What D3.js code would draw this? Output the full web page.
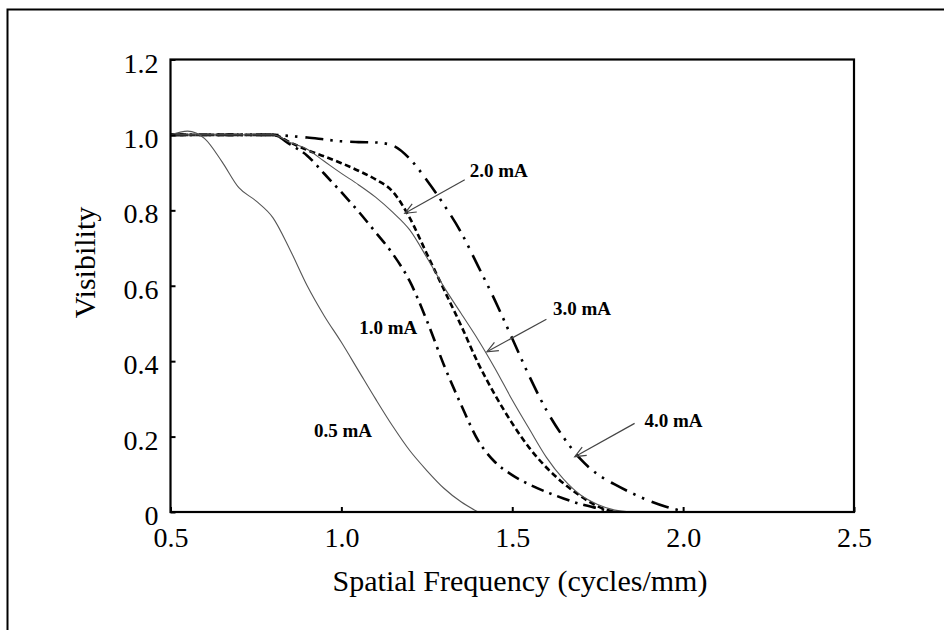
<!DOCTYPE html>
<html><head><meta charset="utf-8">
<script src="https://cdn.jsdelivr.net/npm/d3@7"></script>
<style>html,body{margin:0;padding:0;background:#fff;}svg{display:block;}</style>
</head><body>
<svg id="c" width="944" height="630"></svg>
<script>
const xTicks = [0.5, 1.0, 1.5, 2.0, 2.5];
const xTickLabels = ["0.5", "1.0", "1.5", "2.0", "2.5"];
const yTicks = [0, 0.2, 0.4, 0.6, 0.8, 1.0, 1.2];
const yTickLabels = ["0", "0.2", "0.4", "0.6", "0.8", "1.0", "1.2"];

const x05 = [0.5, 0.55, 0.6, 0.65, 0.7, 0.75, 0.8, 0.85, 0.9, 0.95, 1.0, 1.05, 1.1, 1.15, 1.2, 1.25, 1.3, 1.35, 1.4];
const v05 = [1.0, 1.01, 0.99, 0.93, 0.86, 0.825, 0.78, 0.695, 0.6, 0.52, 0.45, 0.375, 0.30, 0.228, 0.163, 0.11, 0.063, 0.027, 0.0];

const x10 = [0.5, 0.6, 0.7, 0.8, 0.85, 0.9, 0.95, 1.0, 1.05, 1.1, 1.15, 1.2, 1.25, 1.3, 1.35, 1.4, 1.45, 1.5, 1.55, 1.6, 1.65, 1.7, 1.75, 1.8];
const v10 = [1.0, 1.0, 1.0, 1.0, 0.975, 0.945, 0.897, 0.848, 0.797, 0.742, 0.685, 0.612, 0.508, 0.39, 0.285, 0.19, 0.132, 0.098, 0.073, 0.053, 0.036, 0.021, 0.01, 0.0];

const x20 = [0.5, 0.6, 0.7, 0.8, 0.85, 0.9, 0.95, 1.0, 1.05, 1.1, 1.15, 1.2, 1.25, 1.3, 1.35, 1.4, 1.45, 1.5, 1.55, 1.6, 1.65, 1.7, 1.75, 1.8];
const v20 = [1.0, 1.0, 1.0, 1.0, 0.98, 0.96, 0.943, 0.925, 0.905, 0.882, 0.85, 0.78, 0.685, 0.59, 0.495, 0.395, 0.31, 0.235, 0.17, 0.118, 0.076, 0.042, 0.015, 0.0];

const x30 = [0.5, 0.6, 0.7, 0.8, 0.85, 0.9, 0.95, 1.0, 1.05, 1.1, 1.15, 1.2, 1.25, 1.3, 1.35, 1.4, 1.45, 1.5, 1.55, 1.6, 1.65, 1.7, 1.75, 1.8, 1.85];
const v30 = [1.0, 1.0, 1.0, 1.0, 0.98, 0.962, 0.93, 0.898, 0.868, 0.835, 0.795, 0.748, 0.675, 0.597, 0.527, 0.457, 0.38, 0.297, 0.22, 0.145, 0.087, 0.045, 0.02, 0.005, 0.0];

const x40 = [0.5, 0.6, 0.7, 0.8, 0.85, 0.9, 0.95, 1.0, 1.05, 1.1, 1.15, 1.2, 1.25, 1.3, 1.35, 1.4, 1.45, 1.5, 1.55, 1.6, 1.65, 1.7, 1.75, 1.8, 1.85, 1.9, 1.95, 2.0];
const v40 = [1.0, 1.0, 1.0, 1.0, 0.997, 0.993, 0.988, 0.983, 0.981, 0.98, 0.972, 0.937, 0.88, 0.815, 0.742, 0.652, 0.56, 0.46, 0.36, 0.27, 0.198, 0.14, 0.10, 0.073, 0.05, 0.03, 0.014, 0.002];

const seriesNames = ["0.5 mA", "1.0 mA", "2.0 mA", "3.0 mA", "4.0 mA"];

// annotation label positions (data coords) and arrows
const labelX = [0.9196, 1.052, 1.3757, 1.619, 1.887];
const labelY = [0.1997, 0.472, 0.889, 0.5225, 0.2247];
const arrowFromX = [null, null, 1.361, 1.600, 1.858];
const arrowFromY = [null, null, 0.881, 0.511, 0.235];
const arrowToX = [null, null, 1.1857, 1.426, 1.683];
const arrowToY = [null, null, 0.792, 0.425, 0.1467];

const svg = d3.select("#c");
const W = 944, H = 630;
const L = 170.5, R = 854, T = 59.5, B = 512;
const x = d3.scaleLinear().domain([0.5, 2.5]).range([L, R]);
const y = d3.scaleLinear().domain([0, 1.2]).range([B, T]);
const serif = "'Liberation Serif','Times New Roman',serif";

svg.append("rect").attr("width", W).attr("height", H).attr("fill", "#fff");
// outer frame (extends beyond right/bottom)
svg.append("rect").attr("x", 7.5).attr("y", 9.5).attr("width", 1200).attr("height", 1200)
  .attr("fill", "none").attr("stroke", "#000").attr("stroke-width", 2);

// lines
const styles = [
  {w: 1.1, c: "#555", dash: null},
  {w: 2.6, c: "#000", dash: "13,6,2.5,6"},
  {w: 2.6, c: "#000", dash: "6,3.5"},
  {w: 1.1, c: "#555", dash: null},
  {w: 2.6, c: "#000", dash: "18,7,2.5,7,2.5,8"}
];
const xs = [x05, x10, x20, x30, x40];
const vs = [v05, v10, v20, v30, v40];
const line = d3.line().x(d => x(d[0])).y(d => y(d[1])).curve(d3.curveMonotoneX);
const clip = svg.append("clipPath").attr("id", "pc").append("rect")
  .attr("x", L).attr("y", T - 5).attr("width", R - L).attr("height", B - T + 5);
const g = svg.append("g").attr("clip-path", "url(#pc)");
[4, 1, 2, 3, 0].forEach(i => {
  const pts = xs[i].map((xv, j) => [xv, vs[i][j]]);
  g.append("path").attr("d", line(pts)).attr("fill", "none")
    .attr("stroke", styles[i].c).attr("stroke-width", styles[i].w)
    .attr("stroke-dasharray", styles[i].dash)
    .attr("stroke-linecap", "butt");
});

// axes
const xAxis = d3.axisBottom(x).tickValues(xTicks).tickSizeInner(-5).tickSizeOuter(0)
  .tickFormat((d, i) => xTickLabels[i]).tickPadding(12);
const yAxis = d3.axisLeft(y).tickValues(yTicks).tickSizeInner(-5).tickSizeOuter(0)
  .tickFormat((d, i) => yTickLabels[i]).tickPadding(12);
const gx = svg.append("g").attr("transform", `translate(0,${B})`).call(xAxis);
const gy = svg.append("g").attr("transform", `translate(${L},0)`).call(yAxis);
[gx, gy].forEach(a => {
  a.select(".domain").remove();
  a.selectAll(".tick line").attr("stroke", "#000").attr("stroke-width", 2);
  a.selectAll("text").attr("font-family", serif).attr("font-size", 28).attr("fill", "#000");
});
gx.selectAll("text").attr("dy", null).attr("y", 35).attr("dominant-baseline", null);
gy.selectAll("text").attr("dy", "0.45em");

// plot box
svg.append("rect").attr("x", L).attr("y", T).attr("width", R - L).attr("height", B - T)
  .attr("fill", "none").attr("stroke", "#000").attr("stroke-width", 2.2);

// axis titles
svg.append("text").attr("x", 520).attr("y", 591).attr("text-anchor", "middle")
  .attr("font-family", serif).attr("font-size", 30).attr("fill", "#000")
  .text("Spatial Frequency (cycles/mm)");
svg.append("text").attr("transform", "translate(95,262.5) rotate(-90)").attr("text-anchor", "middle")
  .attr("font-family", serif).attr("font-size", 30).attr("fill", "#000")
  .text("Visibility");

// annotations
seriesNames.forEach((n, i) => {
  svg.append("text").attr("x", x(labelX[i])).attr("y", y(labelY[i]))
    .attr("font-family", serif).attr("font-size", 19).attr("font-weight", "bold").attr("fill", "#000")
    .text(n);
  if (arrowFromX[i] !== null) {
    const x1 = x(arrowFromX[i]), y1 = y(arrowFromY[i]), x2 = x(arrowToX[i]), y2 = y(arrowToY[i]);
    svg.append("line").attr("x1", x1).attr("y1", y1).attr("x2", x2).attr("y2", y2)
      .attr("stroke", "#444").attr("stroke-width", 1.2);
    const ang = Math.atan2(y1 - y2, x1 - x2);
    const hl = 12, ha = 0.4;
    const p = [[x2 + hl * Math.cos(ang + ha), y2 + hl * Math.sin(ang + ha)], [x2, y2],
               [x2 + hl * Math.cos(ang - ha), y2 + hl * Math.sin(ang - ha)]];
    svg.append("path").attr("d", d3.line()(p)).attr("fill", "none")
      .attr("stroke", "#444").attr("stroke-width", 1.2);
  }
});
</script>
</body></html>
